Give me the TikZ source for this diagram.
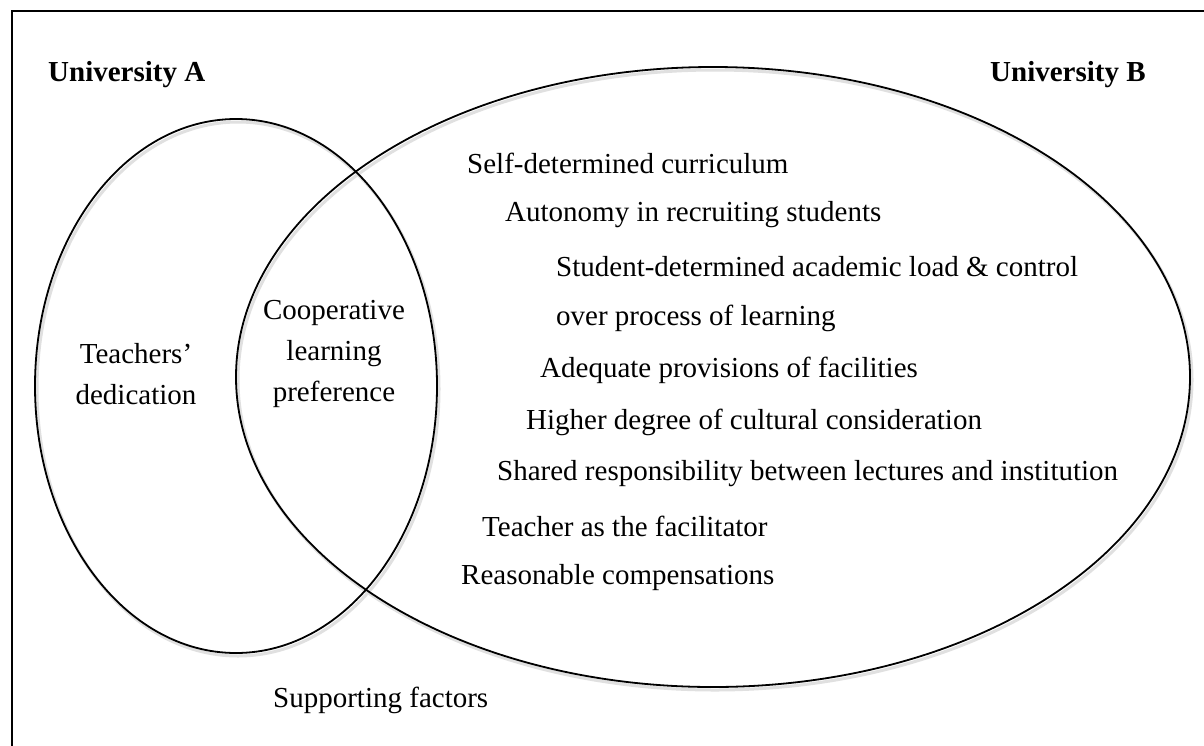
\documentclass[tikz,border=0pt]{standalone}
\usepackage{fontspec}
\setmainfont{Liberation Serif}
\usetikzlibrary{shapes.geometric}
\begin{document}
\begin{tikzpicture}[x=1pt,y=-1pt,
  setshape/.style={ellipse, draw=black, line width=1.8pt, inner sep=0pt},
  setshadow/.style={ellipse, draw=black!12, line width=3pt, inner sep=0pt},
  lbl/.style={font=\fontsize{29}{40}\selectfont, inner sep=0pt, anchor=west},
  title/.style={font=\fontsize{29}{40}\selectfont\bfseries, inner sep=0pt, anchor=west},
  ctr/.style={font=\fontsize{29}{41}\selectfont, inner sep=0pt, align=center}]
\useasboundingbox (0,0) rectangle (1204,745);
\clip (0,0) rectangle (1204,745);
\fill[white] (0,0) rectangle (1204,745);
\node[draw=black, line width=2pt, minimum width=1220pt, minimum height=760pt, anchor=north west, inner sep=0pt] (frame) at (11,10) {};
% shadows
\node[setshadow, minimum width=402pt, minimum height=534pt] (shA) at (238,389) {};
\node[setshadow, minimum width=954pt, minimum height=620pt] (shB) at (715,380) {};
% sets
\node[setshape, minimum width=402pt, minimum height=534pt] (setA) at (236,386) {};
\node[setshape, minimum width=954pt, minimum height=620pt] (setB) at (713,377) {};
% titles
\node[title] (uniA) at (48,75) {University A};
\node[title] (uniB) at (990,75) {University B};
% left only
\node[ctr] (dedication) at (136,374) {Teachers'\\dedication};
% intersection
\node[ctr] (coop) at (334,354) {Cooperative\\learning\\preference};
% right only
\node[lbl] (f1) at (467,163) {Self-determined curriculum};
\node[lbl] (f2) at (505,215) {Autonomy in recruiting students};
\node[lbl] (f3) at (556,267) {Student-determined academic load \& control};
\node[lbl] (f4) at (556,318) {over process of learning};
\node[lbl] (f5) at (540,370) {Adequate provisions of facilities};
\node[lbl] (f6) at (526,422) {Higher degree of cultural consideration};
\node[lbl] (f7) at (497,474) {Shared responsibility between lectures and institution};
\node[lbl] (f8) at (482,526) {Teacher as the facilitator};
\node[lbl] (f9) at (461,578) {Reasonable compensations};
% caption
\node[lbl] (support) at (273,700) {Supporting factors};
\end{tikzpicture}
\end{document}
